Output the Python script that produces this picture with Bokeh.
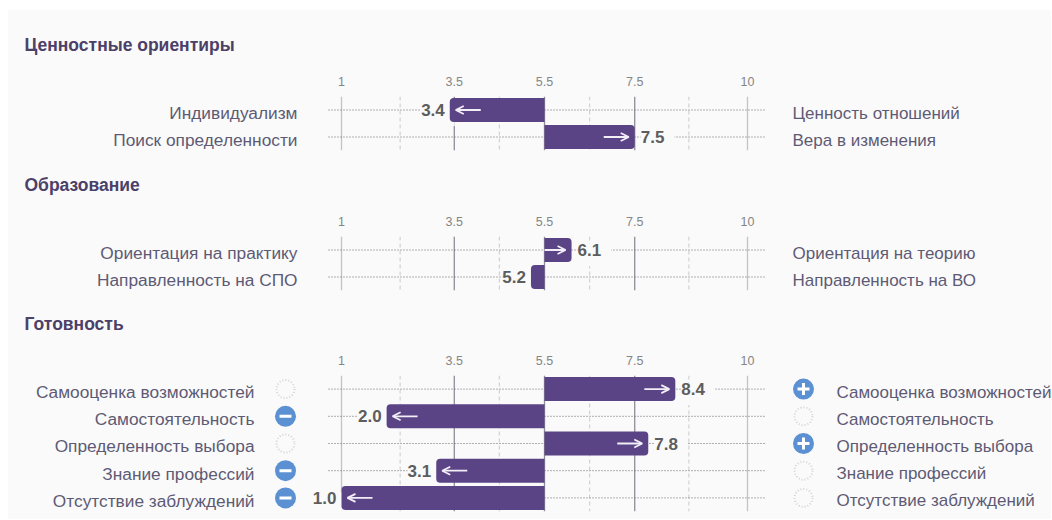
from bokeh.embed import file_html
from bokeh.resources import INLINE
from bokeh.layouts import column
from bokeh.models import (Range1d, FixedTicker, LinearAxis, Arrow, OpenHead,
                          ColumnDataSource, Span)
from bokeh.plotting import figure
from bokeh.core.properties import value as pv

TICKS = [1, 3.5, 5.5, 7.5, 10]
MIDS = [2.3, 4.5, 6.5, 8.7]
MID = 5.5

TITLES = ["Ценностные ориентиры", "Образование", "Готовность"]
LEFT = [["Индивидуализм", "Поиск определенности"],
        ["Ориентация на практику", "Направленность на СПО"],
        ["Самооценка возможностей", "Самостоятельность", "Определенность выбора",
         "Знание профессий", "Отсутствие заблуждений"]]
RIGHT = [["Ценность отношений", "Вера в изменения"],
         ["Ориентация на теорию", "Направленность на ВО"],
         ["Самооценка возможностей", "Самостоятельность", "Определенность выбора",
          "Знание профессий", "Отсутствие заблуждений"]]
VALUES = [[3.4, 7.5], [6.1, 5.2], [8.4, 2.0, 7.8, 3.1, 1.0]]
LEFT_ICONS = [None, None, ["", "-", "", "-", "-"]]
RIGHT_ICONS = [None, None, ["+", "", "+", "", ""]]

BG = "#fafafa"
PURPLE = "#5b4485"
BLUE = "#5b90d2"
LABEL = "#5e5a75"
TITLE = "#4b4068"
FONT = "Liberation Sans"

PX = 45.11
X0 = 9
FIG_W = 1043
X_LEFT, X_RIGHT = 265, X0 + FIG_W
x_range = (1 - (342 - X_LEFT) / PX, 1 + (X_RIGHT - 342) / PX)
LINE_L, LINE_R = 1 - 13 / PX, 10 + 18 / PX

# page y of: fig top, frame top, frame bottom, fig bottom, row height
GEOM = [(11, 97, 151, 152, 27.0), (151, 236, 290, 291, 27.0), (290, 374, 510, 518, 27.25)]


def panel(i):
    top, ft, fb, bot, rh = GEOM[i]
    n = len(VALUES[i])
    lab_shift = 3 / rh
    p = figure(width=FIG_W, height=int(bot - top), output_backend="svg", toolbar_location=None,
               x_axis_location=None, y_axis_location=None,
               x_range=Range1d(*x_range), y_range=Range1d(n - 0.5, -0.5),
               min_border_left=X_LEFT - X0, min_border_right=0,
               min_border_top=int(ft - top), min_border_bottom=int(bot - fb),
               outline_line_color=None, background_fill_color=BG, border_fill_color=BG,
               title=TITLES[i])
    p.title.text_font = FONT
    p.title.text_font_style = "bold"
    p.title.text_font_size = "17.5px"
    p.title.text_color = TITLE
    p.title.align = "left"
    p.title.offset = 25 - X_LEFT
    p.title.standoff = 38
    p.grid.visible = False

    for m in MIDS:
        p.add_layout(Span(location=m, dimension="height", line_color="#d2d2d2", line_width=1.2,
                          line_dash="4 3", level="underlay"))
    for t in TICKS:
        p.add_layout(Span(location=t, dimension="height",
                          line_color="#8f8c99" if t != 1 and t != 10 else "#c4c4c4",
                          line_width=1.3, level="underlay"))

    top_axis = LinearAxis(ticker=FixedTicker(ticks=TICKS), axis_line_color=None,
                          major_tick_line_color=None, minor_tick_line_color=None,
                          major_label_text_color="#858585", major_label_text_font_size="12.5px",
                          major_label_text_font=FONT, major_label_standoff=5,
                          major_label_overrides={1: "1", 10: "10"})
    p.add_layout(top_axis, "above")

    rows = list(range(n))
    p.segment(x0=[LINE_L] * n, x1=[LINE_R] * n, y0=rows, y1=rows, line_color="#66626e",
              line_width=1, line_dash="1 2")

    # value labels: their background breaks the dotted line, the bar is drawn over it
    src = ColumnDataSource(dict(x=VALUES[i], y=rows, t=[f"{v:.1f}" for v in VALUES[i]],
                                off=[5 if v < MID else 6 for v in VALUES[i]],
                                al=["right" if v < MID else "left" for v in VALUES[i]]))
    p.text(x="x", y="y", text="t", x_offset="off", y_offset=5, source=src, text_align="al",
           text_baseline="middle", text_font=pv(FONT), text_font_style="bold",
           text_font_size="17px", text_color="#5d5d5d",
           background_fill_color=BG, padding=[0, 10, 0, 10])

    lv = [(r, v) for r, v in zip(rows, VALUES[i]) if v < MID]
    rv = [(r, v) for r, v in zip(rows, VALUES[i]) if v >= MID]
    if lv:
        p.hbar(y=[a for a, _ in lv], left=[b for _, b in lv], right=[MID] * len(lv), height=24 / rh,
               fill_color=PURPLE, line_color=None, border_radius=(4, 0, 0, 4))
    if rv:
        p.hbar(y=[a for a, _ in rv], left=[MID] * len(rv), right=[b for _, b in rv], height=24 / rh,
               fill_color=PURPLE, line_color=None, border_radius=(0, 4, 4, 0))

    for r, v in zip(rows, VALUES[i]):
        width = abs(v - MID) * PX
        if width < 20:
            continue
        ln = min(25, width - 6)
        s = 1 if v < MID else -1
        tip = v + s * 6 / PX
        p.add_layout(Arrow(end=OpenHead(size=8, line_color="#f2eef7", line_width=1.8),
                           line_color="#f2eef7", line_width=1.8,
                           x_start=tip + s * ln / PX, x_end=tip, y_start=r, y_end=r))

    for icons, xp in ((LEFT_ICONS[i], 286), (RIGHT_ICONS[i], 804)):
        if not icons:
            continue
        xv = 1 + (xp - 342) / PX
        for r, ic in zip(rows, icons):
            if ic:
                p.scatter([xv], [r], marker="circle", size=21, fill_color=BLUE, line_color=None)
                p.scatter([xv], [r], marker="dash" if ic == "-" else "cross", size=12,
                          line_color="#ffffff", line_width=3)
            else:
                p.scatter([xv], [r], marker="circle", size=18, fill_color=BG,
                          line_color="#d4d4d4", line_width=2, line_dash="1 2")

    rx = 793 if i < 2 else 837
    p.text(x=[1 + (rx - 342) / PX] * n, y=rows, text=RIGHT[i], y_offset=3, text_align="left",
           text_baseline="middle", text_font=pv(FONT), text_font_size="17px", text_color=LABEL)

    p.extra_y_ranges = {"labels": Range1d(n - 0.5 - lab_shift, -0.5 - lab_shift)}
    la = LinearAxis(y_range_name="labels", ticker=FixedTicker(ticks=rows), axis_line_color=None,
                    major_tick_line_color=None, minor_tick_line_color=None,
                    major_label_text_color=LABEL, major_label_text_font_size="17.3px",
                    major_label_text_font=FONT,
                    major_label_overrides={r: t for r, t in zip(rows, LEFT[i])},
                    major_label_standoff=X_LEFT - (297 if i < 2 else 254) - 7)
    p.add_layout(la, "left")
    return p


figs = [panel(i) for i in range(3)]
layout = column(*figs, spacing=-1, margin=(10, 0, 0, 8), styles={"background-color": BG})
open("out.html", "w").write(file_html(layout, INLINE))
